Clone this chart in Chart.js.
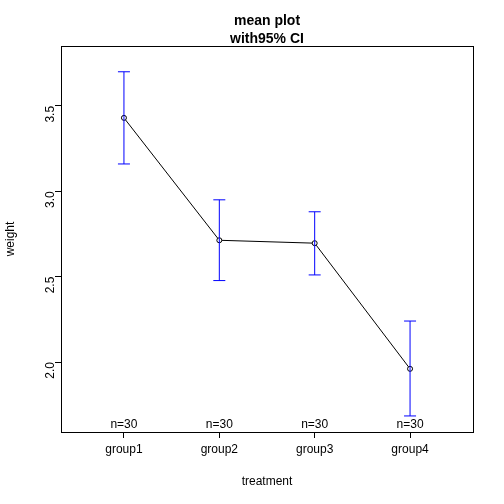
<!DOCTYPE html>
<html><head><script src="https://cdn.jsdelivr.net/npm/chart.js"></script>
<style>body{margin:0;background:#fff}#w{width:504px;height:504px}</style></head>
<body><div id="w"><canvas id="c"></canvas></div>
<script>
const categories=["group1","group2","group3","group4"];
const means=[3.43,2.713,2.696,1.96];
const ciUpper=[3.70,2.95,2.88,2.24];
const ciLower=[3.16,2.477,2.51,1.684];
const counts=[30,30,30,30];
const yTicks=[2.0,2.5,3.0,3.5];
const F="'Liberation Sans', Arial, sans-serif";
const extra={id:'extra',afterDatasetsDraw(ch){
 const c=ch.ctx,x=ch.scales.x,y=ch.scales.y,a=ch.chartArea;
 c.save();
 c.strokeStyle='blue';c.lineWidth=1;
 categories.forEach((g,i)=>{const px=x.getPixelForValue(i+1),t=y.getPixelForValue(ciUpper[i]),b=y.getPixelForValue(ciLower[i]);
  c.beginPath();c.moveTo(px,t);c.lineTo(px,b);c.moveTo(px-6,t);c.lineTo(px+6,t);c.moveTo(px-6,b);c.lineTo(px+6,b);c.stroke();});
 c.fillStyle='#000';c.font='12px '+F;c.textAlign='center';c.textBaseline='alphabetic';
 categories.forEach((g,i)=>c.fillText('n='+counts[i],x.getPixelForValue(i+1),a.bottom-4));
 c.strokeStyle='#000';c.strokeRect(a.left+0.5,a.top+0.5,a.right-a.left,a.bottom-a.top);
 c.font='bold 14px '+F;c.fillText('mean plot',(a.left+a.right)/2,25);c.fillText('with95% CI',(a.left+a.right)/2,43);
 c.font='12px '+F;c.fillText('treatment',(a.left+a.right)/2,485);
 c.translate(14,(a.top+a.bottom)/2);c.rotate(-Math.PI/2);c.fillText('weight',0,0);
 c.restore();}};
new Chart(document.getElementById('c'),{type:'scatter',
 data:{datasets:[{data:means.map((m,i)=>({x:i+1,y:m})),showLine:true,borderColor:'#000',borderWidth:1,
  pointRadius:2.5,pointBackgroundColor:'#fff',pointBorderColor:'#000',pointBorderWidth:1}]},
 options:{responsive:true,maintainAspectRatio:false,animation:false,
  layout:{padding:{left:0,top:46,right:31,bottom:0}},
  plugins:{legend:{display:false},tooltip:{enabled:false}},
  scales:{
   x:{type:'linear',min:0.34,max:4.66,afterBuildTicks(s){s.ticks=[1,2,3,4].map(v=>({value:v}));},
    afterFit(s){s.height=72;},border:{display:false},
    grid:{drawOnChartArea:false,color:'#000',tickLength:6},
    ticks:{color:'#000',font:{family:F,size:12},padding:4,maxRotation:0,callback:v=>categories[v-1]}},
   y:{min:1.59,max:3.851,afterBuildTicks(s){s.ticks=yTicks.map(v=>({value:v}));},
    afterFit(s){s.width=61;},border:{display:false},
    grid:{drawOnChartArea:false,color:'#000',tickLength:6},
    ticks:{color:'#000',font:{family:F,size:12},padding:4,minRotation:90,maxRotation:90,callback:v=>v.toFixed(1)}}}},
 plugins:[extra]});
</script></body></html>
